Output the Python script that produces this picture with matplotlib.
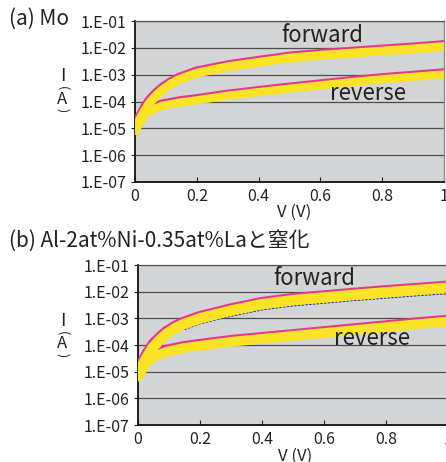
import matplotlib
matplotlib.use("Agg")
import matplotlib.pyplot as plt
from matplotlib.ticker import FixedLocator, FixedFormatter, NullLocator

plt.rcParams['font.family'] = ['Noto Sans CJK JP', 'DejaVu Sans']

# ---------------- data ----------------
panel_titles = ["(a) Mo", "(b) Al-2at%Ni-0.35at%Laと窒化"]
ytick_vals = [1e-7, 1e-6, 1e-5, 1e-4, 1e-3, 1e-2, 1e-1]
ytick_labels = ["1.E-07", "1.E-06", "1.E-05", "1.E-04", "1.E-03", "1.E-02", "1.E-01"]
xtick_vals = [0, 0.2, 0.4, 0.6, 0.8, 1.0]
xtick_labels = ["0", "0.2", "0.4", "0.6", "0.8", "1"]
curve_labels = ["forward", "reverse"]
xlabel = "V (V)"

# panel (a) Mo
a_V_fwd = [0, 0.016, 0.03, 0.048, 0.07, 0.091, 0.12, 0.145, 0.2, 0.3, 0.4, 0.5, 0.6, 0.7, 0.8, 0.9, 1.0]
a_fwd_yel = [8.13e-6, 2.19e-5, 4.37e-5, 9.12e-5, 1.74e-4, 2.88e-4, 4.79e-4, 6.76e-4, 1.15e-3,
             1.97e-3, 2.88e-3, 4.17e-3, 5.25e-3, 6.31e-3, 7.59e-3, 9.12e-3, 1.12e-2]
a_fwd_pink = [1.02e-5, 3.02e-5, 6.03e-5, 1.23e-4, 2.24e-4, 3.63e-4, 5.89e-4, 8.22e-4, 1.38e-3,
              2.34e-3, 3.43e-3, 4.95e-3, 6.24e-3, 7.50e-3, 9.02e-3, 1.08e-2, 1.33e-2]
a_V_rev_yel = [0, 0.016, 0.035, 0.049, 0.07, 0.091, 0.12, 0.146, 0.2, 0.3, 0.4, 0.5, 0.6, 0.7, 0.8, 0.9, 1.0]
a_rev_yel = [8.13e-6, 1.62e-5, 3.63e-5, 4.47e-5, 5.75e-5, 7.08e-5, 8.13e-5, 9.23e-5, 1.11e-4,
             1.64e-4, 2.24e-4, 3.02e-4, 3.98e-4, 5.25e-4, 6.76e-4, 8.32e-4, 1.02e-3]
a_V_rev_pink = [0.035, 0.049, 0.07, 0.091, 0.12, 0.146, 0.2, 0.3, 0.4, 0.5, 0.6, 0.7, 0.8, 0.9, 1.0]
a_rev_pink = [4.79e-5, 5.62e-5, 7.08e-5, 8.61e-5, 9.77e-5, 1.11e-4, 1.33e-4, 1.95e-4, 2.66e-4,
              3.59e-4, 4.73e-4, 6.24e-4, 8.04e-4, 9.89e-4, 1.22e-3]

# panel (b) Al-Ni-La nitrided
b_V_fwd = [0, 0.016, 0.03, 0.048, 0.07, 0.091, 0.12, 0.145, 0.2, 0.3, 0.4, 0.5, 0.6, 0.7, 0.8, 0.9, 1.0]
b_fwd_yel = [7.24e-6, 1.91e-5, 3.80e-5, 8.13e-5, 1.55e-4, 2.57e-4, 4.27e-4, 5.89e-4, 1.0e-3,
             1.95e-3, 3.39e-3, 4.79e-3, 6.03e-3, 7.59e-3, 9.44e-3, 1.15e-2, 1.40e-2]
b_fwd_pink = [9.12e-6, 2.63e-5, 5.25e-5, 1.10e-4, 2.0e-4, 3.24e-4, 5.25e-4, 7.16e-4, 1.20e-3,
              2.32e-3, 4.03e-3, 5.69e-3, 7.16e-3, 9.02e-3, 1.12e-2, 1.36e-2, 1.66e-2]
b_V_navy = [0.15, 0.2, 0.3, 0.4, 0.5, 0.6, 0.7, 0.8, 0.9, 1.0]
b_fwd_navy = [3.80e-4, 6.31e-4, 1.20e-3, 2.09e-3, 2.95e-3, 3.72e-3, 4.68e-3, 5.75e-3, 7.08e-3, 8.51e-3]
b_V_rev_yel = [0, 0.016, 0.027, 0.048, 0.07, 0.091, 0.12, 0.145, 0.2, 0.3, 0.4, 0.5, 0.6, 0.7, 0.8, 0.9, 1.0]
b_rev_yel = [6.46e-6, 1.29e-5, 2.04e-5, 3.63e-5, 4.47e-5, 5.50e-5, 6.53e-5, 7.59e-5, 9.33e-5,
             1.32e-4, 1.70e-4, 2.19e-4, 2.82e-4, 3.63e-4, 4.68e-4, 6.03e-4, 7.59e-4]
b_V_rev_pink = [0.048, 0.07, 0.091, 0.12, 0.145, 0.2, 0.3, 0.4, 0.5, 0.6, 0.7, 0.8, 0.9, 1.0]
b_rev_pink = [4.79e-5, 5.62e-5, 6.76e-5, 7.94e-5, 9.12e-5, 1.12e-4, 1.57e-4, 2.02e-4, 2.60e-4,
              3.35e-4, 4.32e-4, 5.56e-4, 7.16e-4, 9.02e-4]

# ---------------- style ----------------
W, H = 446, 462
BG = "#d3d4d6"
PINK = "#e8368f"
YEL = "#fbe426"
NAVY = "#1c2a86"
TXT = "#222222"

fig = plt.figure(figsize=(W / 100, H / 100), dpi=100)


def fx(x):
    return x / W


def fy(y):
    return 1 - y / H


def make_axes(left, top, right, bottom):
    ax = fig.add_axes([fx(left), fy(bottom), (right - left) / W, (bottom - top) / H])
    ax.set_facecolor(BG)
    ax.set_yscale('log')
    ax.set_ylim(1e-7, 1e-1)
    ax.set_xlim(0, 1)
    ax.yaxis.set_major_locator(FixedLocator(ytick_vals))
    ax.yaxis.set_major_formatter(FixedFormatter(ytick_labels))
    ax.yaxis.set_minor_locator(NullLocator())
    ax.set_xticks(xtick_vals)
    ax.set_xticklabels(xtick_labels)
    ax.tick_params(axis='y', direction='out', length=3, width=0.8, pad=3,
                   labelsize=11.5, colors=TXT)
    ax.tick_params(axis='x', direction='in', length=3.5, width=0.8, pad=4,
                   labelsize=11.5, colors=TXT)
    ax.grid(True, axis='y', color="#4d4d4d", lw=0.9)
    ax.set_axisbelow(True)
    for s in ['left', 'bottom']:
        ax.spines[s].set_color('#111111')
        ax.spines[s].set_linewidth(1.3)
    ax.spines['top'].set_color('#555555')
    ax.spines['top'].set_linewidth(0.9)
    ax.spines['right'].set_color('#8a8a8a')
    ax.spines['right'].set_linewidth(1.0)
    return ax


def band(ax, V_p, pink, V_y, yel, lw):
    ax.plot(V_p, pink, color=PINK, lw=lw, solid_capstyle='round', solid_joinstyle='round', zorder=3)
    ax.plot(V_y, yel, color=YEL, lw=lw, solid_capstyle='round', solid_joinstyle='round', zorder=4)


# panel (a)
axa = make_axes(135, 21, 444, 182)
band(axa, a_V_fwd, a_fwd_pink, a_V_fwd, a_fwd_yel, 6.4)
band(axa, a_V_rev_pink, a_rev_pink, a_V_rev_yel, a_rev_yel, 5.9)
axa.text(0.605, 1.66e-2, curve_labels[0], fontsize=16, color=TXT, ha='center', va='baseline', zorder=6)
axa.text(0.754, 1.15e-4, curve_labels[1], fontsize=16, color=TXT, ha='center', va='baseline', zorder=6)

# panel (b)
axb = make_axes(138, 265, 448, 425)
axb.plot(b_V_navy, b_fwd_navy, color=NAVY, lw=0.9, ls=(0, (2, 1)), zorder=2)
band(axb, b_V_fwd, b_fwd_pink, b_V_fwd, b_fwd_yel, 7.6)
band(axb, b_V_rev_pink, b_rev_pink, b_V_rev_yel, b_rev_yel, 7.0)
axb.text(0.568, 1.78e-2, curve_labels[0], fontsize=16, color=TXT, ha='center', va='baseline', zorder=6)
axb.text(0.755, 1.0e-4, curve_labels[1], fontsize=16, color=TXT, ha='center', va='baseline', zorder=6)

# titles
fig.text(fx(9), fy(19), panel_titles[0], fontsize=15, color=TXT, ha='left', va='center')
fig.text(fx(9), fy(241), panel_titles[1], fontsize=15, color=TXT, ha='left', va='center')

# x labels
fig.text(fx(294), fy(212), xlabel, fontsize=12, color=TXT, ha='center', va='center')
fig.text(fx(295), fy(456), xlabel, fontsize=12, color=TXT, ha='center', va='center')

# vertical y labels "I (A)"
for (yI, yo, yA, yc) in [(76, 88, 99.5, 110), (320.5, 333, 344, 355)]:
    fig.text(fx(62.5), fy(yI), "I", fontsize=13, color=TXT, ha='center', va='center')
    fig.text(fx(62.5), fy(yo), "(", fontsize=9, color=TXT, ha='center', va='center', rotation=-90)
    fig.text(fx(62.5), fy(yA), "A", fontsize=12, color=TXT, ha='center', va='center')
    fig.text(fx(62.5), fy(yc), ")", fontsize=9, color=TXT, ha='center', va='center', rotation=-90)

fig.savefig("out.png", dpi=100)
